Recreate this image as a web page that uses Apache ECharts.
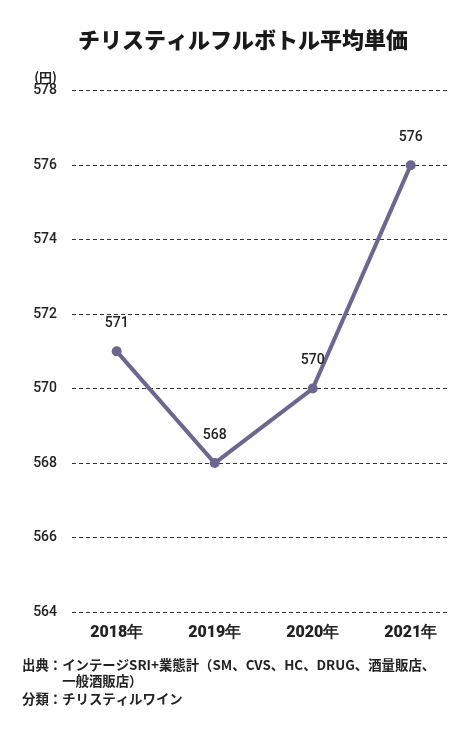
<!DOCTYPE html>
<html>
<head>
<meta charset="utf-8">
<script src="https://cdn.jsdelivr.net/npm/echarts@6/dist/echarts.min.js"></script>
<style>
html,body{margin:0;padding:0;background:#fff;}
#c{width:465px;height:736px;}
</style>
</head>
<body>
<div id="c"></div>
<script>
const title = 'チリスティルフルボトル平均単価';
const categories = ['2018年', '2019年', '2020年', '2021年'];
const values = [571, 568, 570, 576];
const yMin = 564, yMax = 578, yStep = 2;
const unitLabel = '(円)';
const footnotes = [
  '出典：インテージSRI+業態計（SM、CVS、HC、DRUG、酒量販店、',
  '　　　一般酒販店）',
  '分類：チリスティルワイン'
];

const numFont = "'Roboto','Liberation Sans',sans-serif";
const jpFont = "'Noto Sans CJK JP','Noto Sans',sans-serif";

const chart = echarts.init(document.getElementById('c'));
chart.setOption({
  backgroundColor: '#ffffff',
  animation: false,
  title: {
    text: title,
    left: 73,
    top: 24,
    textStyle: {fontFamily: jpFont, fontWeight: 900, fontSize: 22, color: '#1a1a1a'}
  },
  grid: [
    {left: 67.7, right: 5.3, top: 90.7, bottom: 124},
    {left: 72, right: 17, top: 90.7, bottom: 124}
  ],
  xAxis: [
    {
      type: 'category', gridIndex: 0, data: categories, boundaryGap: true,
      axisLine: {show: false}, axisTick: {show: false},
      axisLabel: {margin: 13, fontFamily: numFont, fontWeight: 900, fontSize: 16, color: '#222'}
    },
    {type: 'category', gridIndex: 1, data: categories, show: false}
  ],
  yAxis: [
    {type: 'value', gridIndex: 0, min: yMin, max: yMax, interval: yStep, show: false, splitLine: {show: false}},
    {
      type: 'value', gridIndex: 1, min: yMin, max: yMax, interval: yStep,
      name: unitLabel, nameLocation: 'end', nameGap: 5,
      nameTextStyle: {fontFamily: jpFont, fontWeight: 'bold', fontSize: 13, color: '#222', align: 'right', padding: [0, 15, 0, 0]},
      axisLine: {show: false}, axisTick: {show: false},
      axisLabel: {margin: 15, fontFamily: numFont, fontWeight: 500, fontSize: 14, color: '#222'},
      splitLine: {show: true, lineStyle: {type: [4, 3], color: '#333', width: 1}}
    }
  ],
  series: [{
    type: 'line',
    xAxisIndex: 0, yAxisIndex: 0,
    data: values,
    symbol: 'circle', symbolSize: 10,
    lineStyle: {color: '#6e6691', width: 4},
    itemStyle: {color: '#6e6691'},
    label: {show: true, position: 'top', distance: 16, fontFamily: numFont, fontWeight: 500, fontSize: 14, color: '#222'}
  }],
  graphic: footnotes.map((t, i) => ({
    type: 'text',
    left: 22,
    top: [658, 674, 692][i],
    style: {text: t, font: "bold 13.4px " + jpFont, fill: '#222'}
  }))
});
</script>
</body>
</html>
